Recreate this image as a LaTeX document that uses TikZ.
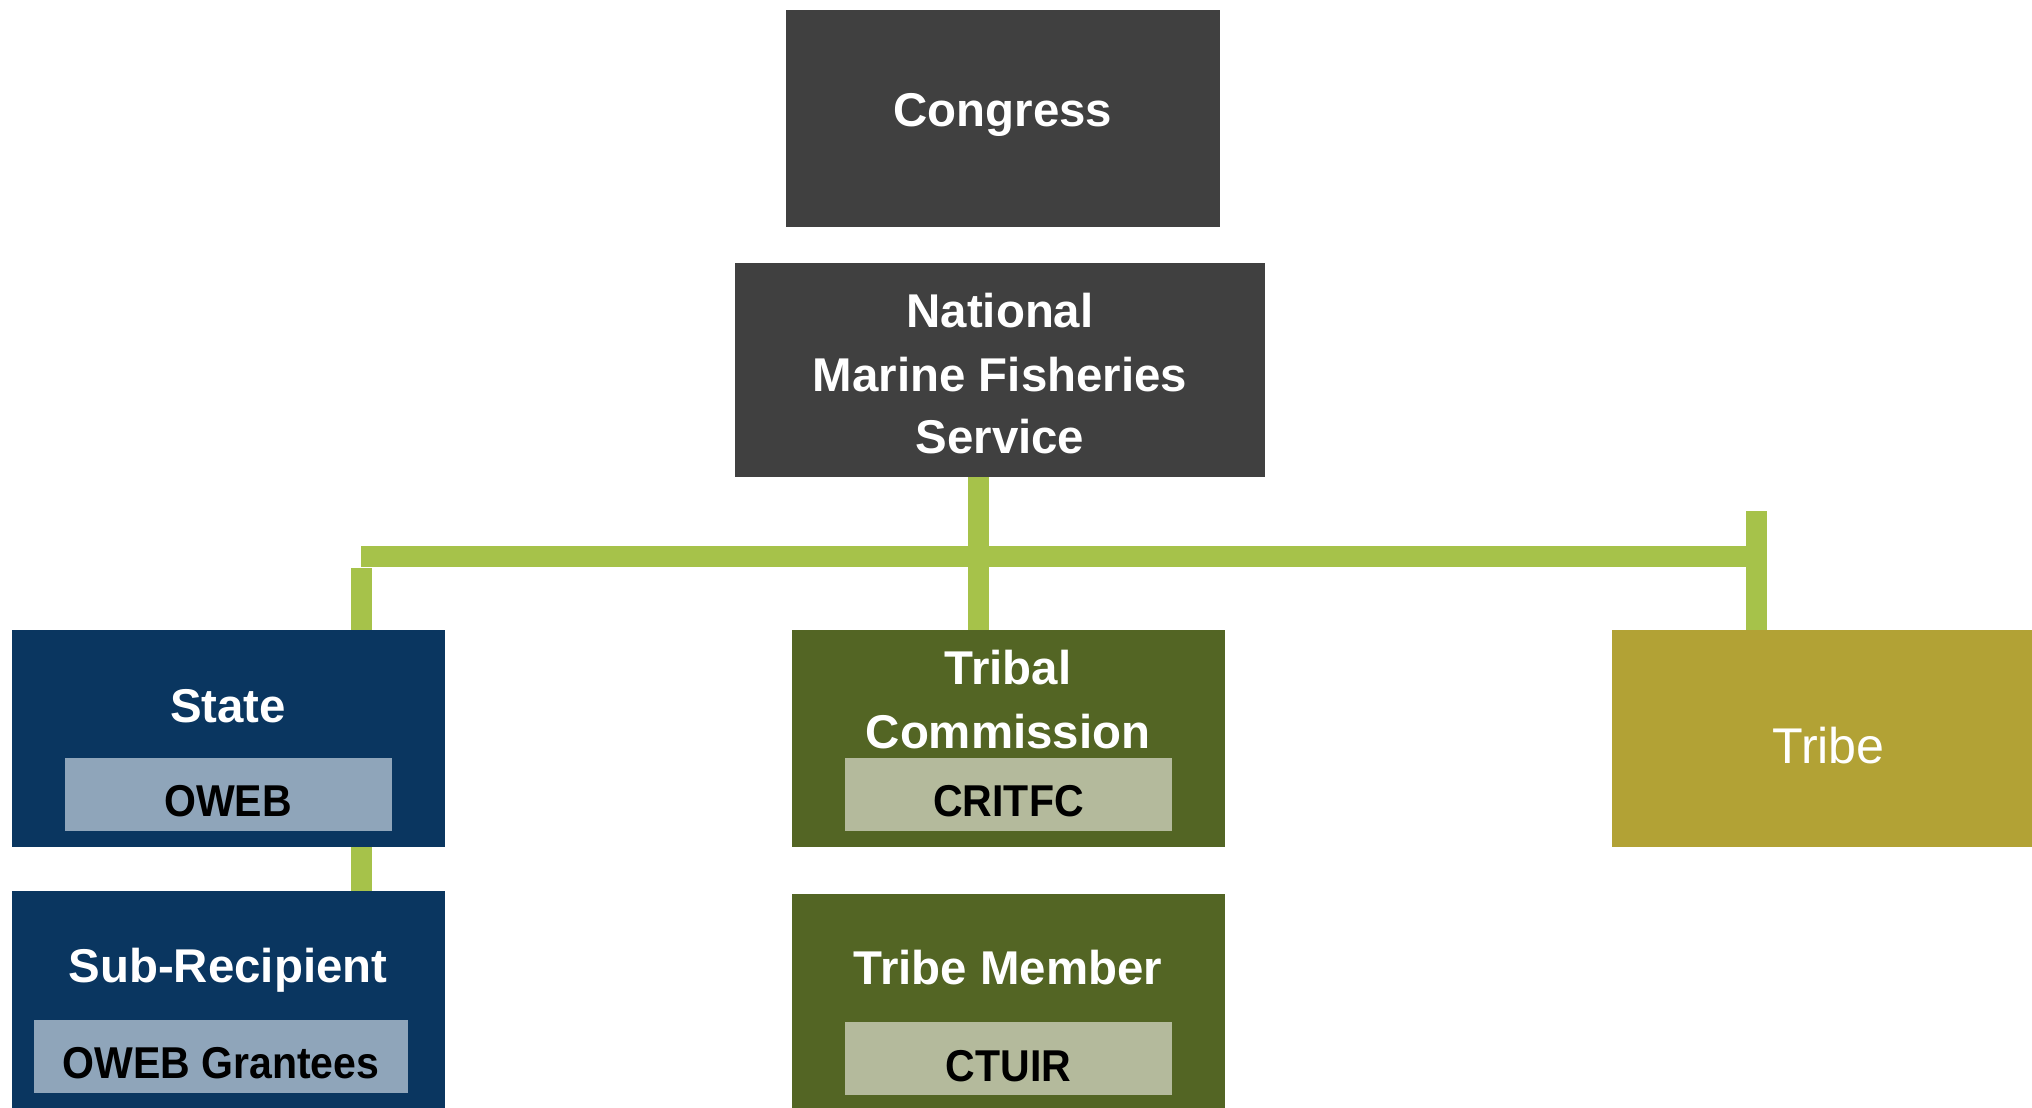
\documentclass[tikz,border=0pt]{standalone}
\usepackage{fontspec}
\setmainfont{Liberation Sans}
\newfontfamily\lblfont[FakeStretch=0.92]{Liberation Sans}
\definecolor{cgray}{HTML}{404040}
\definecolor{cnavy}{HTML}{0A3660}
\definecolor{cnavyl}{HTML}{8FA5BA}
\definecolor{colive}{HTML}{536524}
\definecolor{colivel}{HTML}{B4BA9C}
\definecolor{ctribe}{HTML}{B2A235}
\definecolor{cline}{HTML}{A6C24A}
\tikzset{
  box/.style={rectangle, inner sep=0pt, outer sep=0pt, draw=none},
  wtxt/.style={anchor=base, text=white, font=\fontsize{23.7bp}{31.5bp}\selectfont\bfseries, inner sep=0pt},
  ltxt/.style={anchor=base, text=black, font=\lblfont\fontsize{22.3bp}{28bp}\selectfont\bfseries, inner sep=0pt},
  conn/.style={draw=cline, line width=10.5bp}
}
\begin{document}
\begin{tikzpicture}[x=0.5bp,y=-0.5bp]
\useasboundingbox (0,0) rectangle (2032,1107);
% main boxes
\node[box, fill=cgray, minimum width=217bp, minimum height=108.25bp] (congress) at (1003,118.25) {};
\node[box, fill=cgray, minimum width=265bp, minimum height=107bp] (nmfs) at (1000,370) {};
\node[box, fill=cnavy, minimum width=216.25bp, minimum height=108.5bp] (state) at (228.25,738.5) {};
\node[box, fill=cnavy, minimum width=216.25bp, minimum height=114.5bp] (sub) at (228.25,1005.5) {};
\node[box, fill=colive, minimum width=216.5bp, minimum height=108.5bp] (tcomm) at (1008.5,738.5) {};
\node[box, fill=colive, minimum width=216.5bp, minimum height=113bp] (tmember) at (1008.5,1007) {};
\node[box, fill=ctribe, minimum width=214bp, minimum height=108.5bp] (tribe) at (1826,738.5) {};
% inner label boxes
\node[box, fill=cnavyl, minimum width=163.3bp, minimum height=36.5bp] (oweb) at (228.3,794.5) {};
\node[box, fill=cnavyl, minimum width=187bp, minimum height=36.5bp] (owebg) at (221,1056.5) {};
\node[box, fill=colivel, minimum width=163.5bp, minimum height=36.5bp] (critfc) at (1008.5,794.5) {};
\node[box, fill=colivel, minimum width=163.5bp, minimum height=36.5bp] (ctuir) at (1008.5,1058.5) {};
% texts
\node[wtxt] (tcongress) at (1003,126) {Congress};
\node[wtxt] (tnat) at (1000,327) {National};
\node[wtxt] (tmar) at (1000,391) {Marine Fisheries};
\node[wtxt] (tser) at (1000,453) {Service};
\node[wtxt] (tstate) at (228,722) {State};
\node[wtxt] (tsub) at (228,982) {Sub-Recipient};
\node[wtxt] (ttribal) at (1008,684) {Tribal};
\node[wtxt] (tcommis) at (1008,748) {Commission};
\node[wtxt] (tmem) at (1008,984) {Tribe Member};
\node[anchor=base, text=white, inner sep=0pt, font=\fontsize{25.1bp}{30bp}\selectfont] (ttribe) at (1828.5,763) {Tribe};
\node[ltxt] (toweb) at (228,816) {OWEB};
\node[ltxt] (towebg) at (221,1078) {OWEB Grantees};
\node[ltxt] (tcritfc) at (1008.5,816) {CRITFC};
\node[ltxt] (tctuir) at (1008.5,1081) {CTUIR};
% connectors
\coordinate (cx) at (978.5,0);
\coordinate (sx) at (361.5,568);
\coordinate (bl) at (361,556.5);
\coordinate (br) at (1756.5,556.5);
\coordinate (rt) at (1756.5,511);
\draw[conn] (cx |- nmfs.south) -- (cx |- tcomm.north);
\draw[conn] (bl) -- (br);
\draw[conn] (sx) -- (sx |- state.north);
\draw[conn] (sx |- state.south) -- (sx |- sub.north);
\draw[conn] (rt) -- (rt |- tribe.north);
\end{tikzpicture}
\end{document}
